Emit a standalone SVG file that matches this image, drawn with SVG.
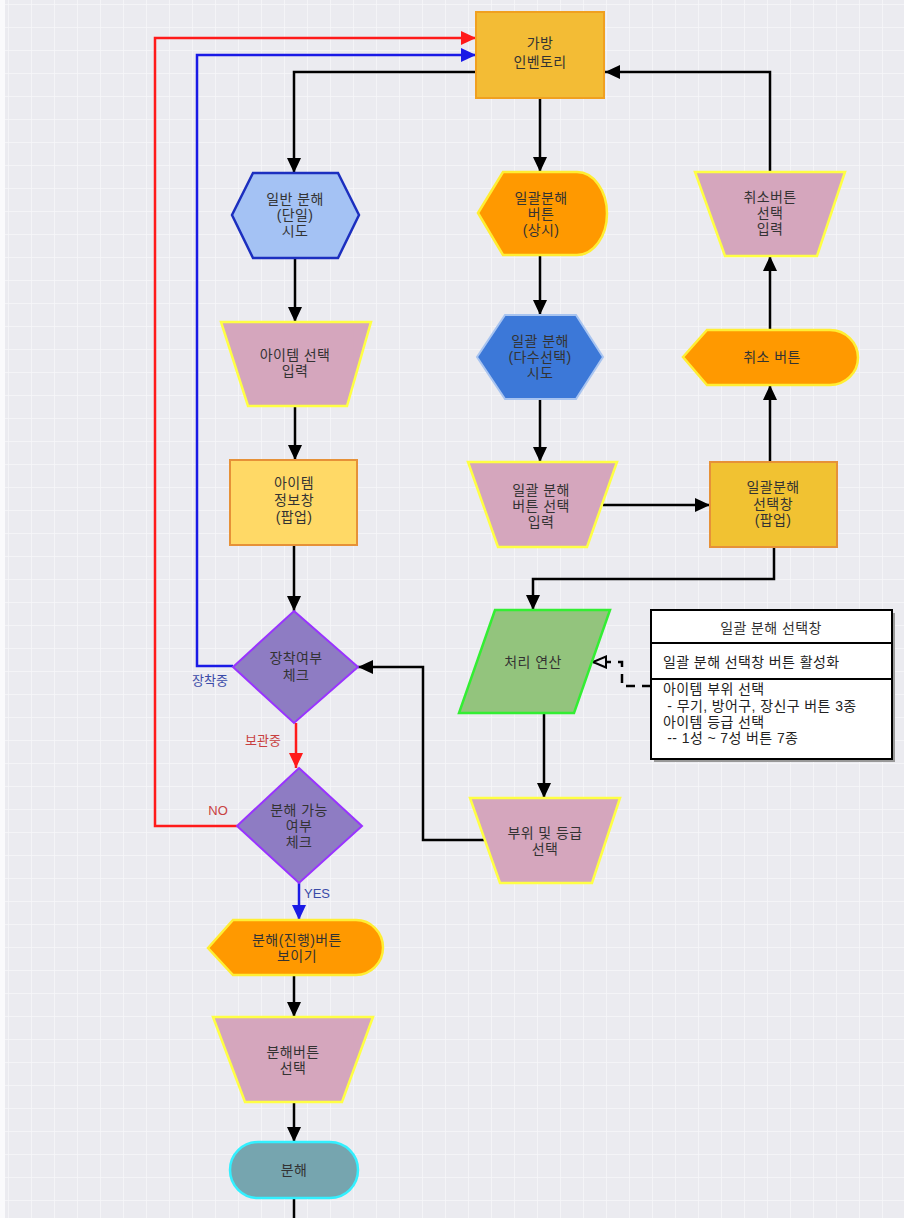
<svg xmlns="http://www.w3.org/2000/svg" width="904" height="1218" viewBox="0 0 904 1218">
<defs>
<pattern id="grid" width="23" height="23" patternUnits="userSpaceOnUse" x="8" y="4">
<rect width="23" height="23" fill="#ebebf0"/>
<path d="M0,0 H23 M0,0 V23" stroke="#f7f7fa" stroke-width="1.5" fill="none"/>
</pattern>
<marker id="ab" markerUnits="userSpaceOnUse" markerWidth="16" markerHeight="14" refX="15" refY="7" orient="auto">
<path d="M0,0 L15,7 L0,14 Z" fill="#000"/>
</marker>
<marker id="ar" markerUnits="userSpaceOnUse" markerWidth="16" markerHeight="14" refX="15" refY="7" orient="auto">
<path d="M0,0 L15,7 L0,14 Z" fill="#ff1a1a"/>
</marker>
<marker id="au" markerUnits="userSpaceOnUse" markerWidth="16" markerHeight="14" refX="15" refY="7" orient="auto">
<path d="M0,0 L15,7 L0,14 Z" fill="#1a1ae6"/>
</marker>
<marker id="ao" markerUnits="userSpaceOnUse" markerWidth="16" markerHeight="14" refX="14" refY="6.5" orient="auto">
<path d="M1,1 L14,6.5 L1,12 Z" fill="#ebebf0" stroke="#000" stroke-width="2"/>
</marker>
</defs>
<style>
.t{font-family:"Liberation Sans","Noto Sans CJK KR",sans-serif;font-size:14px;letter-spacing:0.4px;fill:#333;text-anchor:middle}
.l{font-family:"Liberation Sans","Noto Sans CJK KR",sans-serif;font-size:14px;letter-spacing:0.4px;fill:#222}
.lab{font-family:"Liberation Sans","Noto Sans CJK KR",sans-serif;font-size:13px;text-anchor:middle}
.c{fill:none;stroke:#000;stroke-width:2.5}
.trap{fill:#d5a6bd;stroke:#ffff44;stroke-width:2.5}
.disp{fill:#ff9900;stroke:#ffee33;stroke-width:2.5}
.dia{fill:#8e7cc3;stroke:#9933ff;stroke-width:2}
</style>
<rect width="904" height="1218" fill="url(#grid)"/>
<rect width="5" height="1218" fill="#fafafc"/>

<g id="connectors">
<path class="c" d="M476,72 L294,72 L294,173" marker-end="url(#ab)"/>
<path class="c" d="M540,98 L540,172" marker-end="url(#ab)"/>
<path class="c" d="M770,172 L770,72 L605,72" marker-end="url(#ab)"/>
<path class="c" d="M295,258 L295,322" marker-end="url(#ab)"/>
<path class="c" d="M295,406 L295,460" marker-end="url(#ab)"/>
<path class="c" d="M294,545 L294,611" marker-end="url(#ab)"/>
<path fill="none" stroke="#ff1a1a" stroke-width="2.5" d="M237,826 L155,826 L155,38 L476,38" marker-end="url(#ar)"/>
<path fill="none" stroke="#1a1ae6" stroke-width="2.5" d="M233,666 L197,666 L197,55 L476,55" marker-end="url(#au)"/>
<path fill="none" stroke="#ff1a1a" stroke-width="2.5" d="M296,723 L296,768" marker-end="url(#ar)"/>
<path fill="none" stroke="#1a1ae6" stroke-width="2.5" d="M299,883 L299,920" marker-end="url(#au)"/>
<path class="c" d="M540,255 L540,315" marker-end="url(#ab)"/>
<path class="c" d="M540,399 L540,462" marker-end="url(#ab)"/>
<path class="c" d="M603,505 L710,505" marker-end="url(#ab)"/>
<path class="c" d="M770,462 L770,385" marker-end="url(#ab)"/>
<path class="c" d="M770,330 L770,256" marker-end="url(#ab)"/>
<path class="c" d="M774,547 L774,579 L533,579 L533,610" marker-end="url(#ab)"/>
<path class="c" d="M544,713 L544,798" marker-end="url(#ab)"/>
<path class="c" d="M485,840 L423,840 L423,667 L358,667" marker-end="url(#ab)"/>
<path fill="none" stroke="#000" stroke-width="2.5" stroke-dasharray="9,7" d="M651,686 L622,686 L622,662 L593,662" marker-end="url(#ao)"/>
<path class="c" d="M294,975 L294,1017" marker-end="url(#ab)"/>
<path class="c" d="M294,1102 L294,1142" marker-end="url(#ab)"/>
<path class="c" d="M294,1198 L294,1218"/>
</g>

<g id="inventory">
<rect x="476" y="12" width="128" height="86" fill="#f3bc35" stroke="#f0a020" stroke-width="2"/>
<text class="t" x="540" y="48">가방<tspan x="540" dy="19">인벤토리</tspan></text>
</g>

<g id="single-try">
<polygon points="253,173 338,173 359,215 338,258 253,258 232,215" fill="#a4c2f4" stroke="#1c2fbf" stroke-width="2.5"/>
<text class="t" x="295" y="204">일반 분해<tspan x="295" dy="16">(단일)</tspan><tspan x="295" dy="16">시도</tspan></text>
</g>

<g id="item-select">
<polygon class="trap" points="221,322 371,322 347,406 248,406"/>
<text class="t" x="295" y="359.5">아이템 선택<tspan x="295" dy="16">입력</tspan></text>
</g>

<g id="item-info">
<rect x="230" y="460" width="127" height="85" fill="#ffd966" stroke="#e69138" stroke-width="2"/>
<text class="t" x="294" y="488">아이템<tspan x="294" dy="17">정보창</tspan><tspan x="294" dy="17">(팝업)</tspan></text>
</g>

<g id="equip-check">
<polygon class="dia" points="294,611 358,667 294,723 233,667"/>
<text class="t" x="296" y="663">장착여부<tspan x="296" dy="17">체크</tspan></text>
</g>

<g id="label-equipped"><text class="lab" x="210" y="685" style="fill:#3a4aa8">장착중</text></g>
<g id="label-stored"><text class="lab" x="263" y="745" style="fill:#c84040">보관중</text></g>

<g id="decomp-check">
<polygon class="dia" points="299,768 362,826 299,883 237,826"/>
<text class="t" x="299" y="815">분해 가능<tspan x="299" dy="16">여부</tspan><tspan x="299" dy="16">체크</tspan></text>
</g>

<g id="label-no"><text class="lab" x="218" y="815" style="fill:#c84040">NO</text></g>
<g id="label-yes"><text class="lab" x="317" y="898" style="fill:#3a4aa8">YES</text></g>

<g id="decomp-show">
<path class="disp" d="M208,948 L233,920 L356,920 A27,27.5 0 0 1 356,975 L233,975 Z"/>
<text class="t" x="297" y="944.5">분해(진행)버튼<tspan x="297" dy="16">보이기</tspan></text>
</g>

<g id="decomp-select">
<polygon class="trap" points="213,1017 373,1017 342,1102 245,1102"/>
<text class="t" x="293" y="1056.5">분해버튼<tspan x="293" dy="16">선택</tspan></text>
</g>

<g id="decomp">
<rect x="230" y="1142" width="128" height="56" rx="28" fill="#76a5af" stroke="#33f0ff" stroke-width="2.5"/>
<text class="t" x="294" y="1175">분해</text>
</g>

<g id="bulk-button">
<path class="disp" d="M478,213 L503,172 L577,172 A30,41.5 0 0 1 577,255 L503,255 Z"/>
<text class="t" x="541" y="202.5">일괄분해<tspan x="541" dy="16">버튼</tspan><tspan x="541" dy="16">(상시)</tspan></text>
</g>

<g id="bulk-try">
<polygon points="505,315 576,315 603,357 576,399 505,399 477,357" fill="#3c78d8" stroke="#a8c4f0" stroke-width="2"/>
<text class="t" x="540" y="346">일괄 분해<tspan x="540" dy="16">(다수선택)</tspan><tspan x="540" dy="16">시도</tspan></text>
</g>

<g id="bulk-select">
<polygon class="trap" points="468,462 617,462 587,547 498,547"/>
<text class="t" x="541" y="494.5">일괄 분해<tspan x="541" dy="16">버튼 선택</tspan><tspan x="541" dy="16">입력</tspan></text>
</g>

<g id="bulk-popup">
<rect x="710" y="462" width="127" height="85" fill="#f1c232" stroke="#e69138" stroke-width="2"/>
<text class="t" x="773" y="492">일괄분해<tspan x="773" dy="16.5">선택창</tspan><tspan x="773" dy="16.5">(팝업)</tspan></text>
</g>

<g id="cancel-button">
<path class="disp" d="M683,357 L707,330 L830,330 A28,27.5 0 0 1 830,385 L707,385 Z"/>
<text class="t" x="772" y="362">취소 버튼</text>
</g>

<g id="cancel-select">
<polygon class="trap" points="695,172 845,172 817,256 725,256"/>
<text class="t" x="770" y="202">취소버튼<tspan x="770" dy="16">선택</tspan><tspan x="770" dy="16">입력</tspan></text>
</g>

<g id="process">
<polygon points="495,610 610,610 574,713 459,713" fill="#93c47d" stroke="#33ee33" stroke-width="2.5"/>
<text class="t" x="533" y="667">처리 연산</text>
</g>

<g id="part-grade">
<polygon class="trap" points="470,798 620,798 592,883 500,883"/>
<text class="t" x="545" y="837.5">부위 및 등급<tspan x="545" dy="16">선택</tspan></text>
</g>

<g id="note">
<rect x="654" y="613" width="241" height="149" fill="#999"/>
<rect x="651" y="610" width="241" height="149" fill="#fff" stroke="#000" stroke-width="2"/>
<line x1="651" y1="643" x2="892" y2="643" stroke="#000" stroke-width="2"/>
<line x1="651" y1="679" x2="892" y2="679" stroke="#000" stroke-width="2"/>
<text class="t" x="771" y="633">일괄 분해 선택창</text>
<text class="l" x="663" y="667">일괄 분해 선택창 버튼 활성화</text>
<text class="l" x="663" y="694" xml:space="preserve">아이템 부위 선택<tspan x="663" dy="16.5"> - 무기, 방어구, 장신구 버튼 3종</tspan><tspan x="663" dy="16">아이템 등급 선택</tspan><tspan x="663" dy="16"> -- 1성 ~ 7성 버튼 7종</tspan></text>
</g>
</svg>
